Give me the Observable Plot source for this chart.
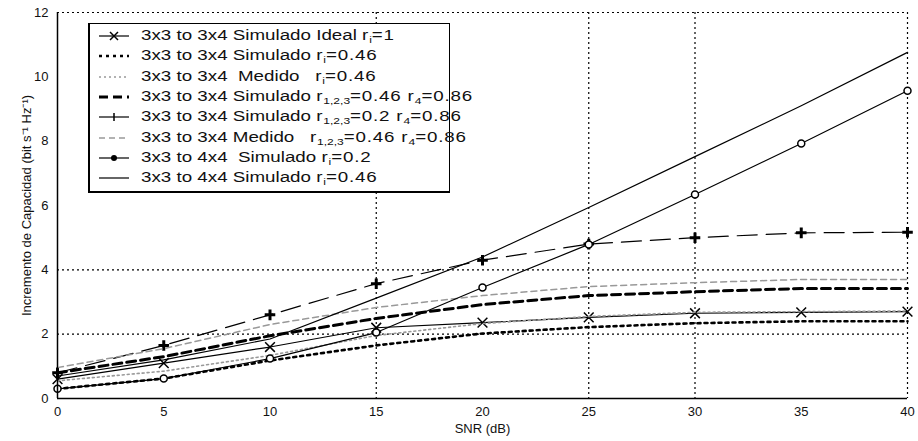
<!DOCTYPE html>
<html>
<head>
<meta charset="utf-8">
<script src="https://cdn.jsdelivr.net/npm/d3@7"></script>
<script src="https://cdn.jsdelivr.net/npm/@observablehq/plot@0.6"></script>
<style>
  html, body { margin: 0; padding: 0; background: #fff; }
  #wrap { position: relative; width: 918px; height: 441px; font-family: "Liberation Sans", Arial, sans-serif; }
  #legend { position: absolute; left: 88px; top: 23px; width: 362px; height: 170px; background: #fff;
            border: 1px solid #000; border-left-width: 2px; border-bottom-width: 2px; box-sizing: border-box; }
  .row { position: absolute; left: 0; height: 20px; display: flex; align-items: center; font-size: 14px; color: #111; white-space: nowrap; }
  .row svg { margin-left: 8px; margin-right: 11px; flex: none; }
  .row span.t { display: inline-block; transform: scaleX(1.34); transform-origin: 0 50%; }
  .r { letter-spacing: 0.6px; }
  sub { font-size: 9px; vertical-align: -3px; letter-spacing: 0; }
</style>
</head>
<body>
<div id="wrap"></div>
<script>
const snr = [0, 5, 10, 15, 20, 25, 30, 35, 40];
const xTicks = [0, 5, 10, 15, 20, 25, 30, 35, 40];
const yTicks = [0, 2, 4, 6, 8, 10, 12];
const xGrid = [15, 25, 30, 40];
const yGrid = [2, 4, 12];

const sIdeal      = [0.6, 1.1, 1.6, 2.2, 2.36, 2.52, 2.65, 2.68, 2.7];
const sSim046     = [0.3, 0.62, 1.18, 1.65, 2.02, 2.22, 2.34, 2.4, 2.4];
const sMed046     = [0.55, 0.85, 1.34, 1.96, 2.33, 2.55, 2.68, 2.7, 2.72];
const sSim046_086 = [0.8, 1.3, 1.95, 2.49, 2.92, 3.2, 3.32, 3.42, 3.42];
const sSim02_086  = [0.8, 1.65, 2.6, 3.57, 4.3, 4.8, 5.0, 5.15, 5.17];
const sMed046_086 = [0.96, 1.55, 2.3, 2.83, 3.2, 3.48, 3.6, 3.7, 3.7];
const s4x4_02     = [0.3, 0.62, 1.24, 2.05, 3.45, 4.79, 6.34, 7.93, 9.57];
const s4x4_046    = [0.7, 1.2, 1.85, 3.12, 4.4, 5.94, 7.52, 9.1, 10.76];

const legendLabels = [
  "3x3 to 3x4 Simulado Ideal <span class='r'>r<sub>i</sub>=1</span>",
  "3x3 to 3x4 Simulado <span class='r'>r<sub>i</sub>=0.46</span>",
  "3x3 to 3x4 &nbsp;Medido &nbsp;&nbsp;<span class='r'>r<sub>i</sub>=0.46</span>",
  "3x3 to 3x4 Simulado <span class='r'>r<sub>1,2,3</sub>=0.46 r<sub>4</sub>=0.86</span>",
  "3x3 to 3x4 Simulado <span class='r'>r<sub>1,2,3</sub>=0.2 r<sub>4</sub>=0.86</span>",
  "3x3 to 3x4 Medido &nbsp;&nbsp;<span class='r'>r<sub>1,2,3</sub>=0.46 r<sub>4</sub>=0.86</span>",
  "3x3 to 4x4 &nbsp;Simulado <span class='r'>r<sub>i</sub>=0.2</span>",
  "3x3 to 4x4 Simulado <span class='r'>r<sub>i</sub>=0.46</span>"
];

const seriesValues = [sIdeal, sSim046, sMed046, sSim046_086, sSim02_086, sMed046_086, s4x4_02, s4x4_046];
const styles = [
  {stroke: "#000", width: 1.2, dash: null, symbol: "times"},
  {stroke: "#000", width: 2.6, dash: "3,4", symbol: null},
  {stroke: "#999", width: 1.6, dash: "2,3", symbol: null},
  {stroke: "#000", width: 3, dash: "9,5", symbol: null},
  {stroke: "#000", width: 1.2, dash: "20,9", symbol: "plus"},
  {stroke: "#999", width: 1.5, dash: "6,4", symbol: null},
  {stroke: "#000", width: 1.2, dash: null, symbol: "circle"},
  {stroke: "#000", width: 1.2, dash: null, symbol: null}
];

const lineMarks = [];
seriesValues.forEach((vals, i) => {
  const st = styles[i];
  const data = snr.map((x, j) => ({x, y: vals[j]}));
  lineMarks.push(Plot.line(data, {x: "x", y: "y", stroke: st.stroke, strokeWidth: st.width,
    strokeDasharray: st.dash || undefined}));
  if (st.symbol) {
    lineMarks.push(Plot.dot(data, {x: "x", y: "y", symbol: st.symbol,
      r: st.symbol === "circle" ? 3.5 : (st.symbol === "plus" ? 3.5 : 4.5),
      stroke: "#000", strokeWidth: st.symbol === "plus" ? 3 : 1.5, fill: st.symbol === "circle" ? "#fff" : "none"}));
  }
});

const chart = Plot.plot({
  width: 918,
  height: 441,
  marginLeft: 57,
  marginRight: 11,
  marginTop: 12,
  marginBottom: 43,
  style: {fontFamily: "'Liberation Sans', Arial, sans-serif", fontSize: "13px", background: "#fff", color: "#111"},
  x: {domain: [0, 40]},
  y: {domain: [0, 12]},
  marks: [
    Plot.ruleX(xGrid, {stroke: "#000", strokeDasharray: "2,3", strokeWidth: 1.2}),
    Plot.ruleY(yGrid, {stroke: "#000", strokeDasharray: "2,3", strokeWidth: 1.2}),
    ...lineMarks,
    Plot.ruleX([0], {stroke: "#000", strokeWidth: 1.5}),
    Plot.ruleY([0], {stroke: "#000", strokeWidth: 1.5}),
    Plot.axisX(xTicks, {tickSize: 0, tickPadding: 8, label: "SNR (dB)", labelAnchor: "center", labelArrow: "none", labelOffset: 34}),
    Plot.axisY(yTicks, {tickSize: 0, tickPadding: 9, label: "Incremento de Capacidad (bit s⁻¹ Hz⁻¹)", labelAnchor: "center", labelArrow: "none", labelOffset: 36})
  ]
});

const wrap = document.getElementById("wrap");
wrap.appendChild(chart);

const legend = document.createElement("div");
legend.id = "legend";
wrap.appendChild(legend);
legendLabels.forEach((lab, i) => {
  const st = styles[i];
  const row = document.createElement("div");
  row.className = "row";
  row.style.top = (2 + i * 20.3) + "px";
  const svg = d3.create("svg").attr("width", 32).attr("height", 12);
  svg.append("line").attr("x1", 1).attr("x2", 31).attr("y1", 6).attr("y2", 6)
    .attr("stroke", st.stroke).attr("stroke-width", st.width)
    .attr("stroke-dasharray", st.dash ? (i === 4 ? null : st.dash) : null);
  if (st.symbol === "times") {
    svg.append("path").attr("d", "M12,2L20,10M20,2L12,10").attr("stroke", "#000").attr("stroke-width", 1.5);
  } else if (st.symbol === "plus") {
    svg.append("path").attr("d", "M16,2V10").attr("stroke", "#000").attr("stroke-width", 1.5);
  } else if (st.symbol === "circle") {
    svg.append("circle").attr("cx", 16).attr("cy", 6).attr("r", 3).attr("fill", "#000");
  }
  row.appendChild(svg.node());
  const span = document.createElement("span");
  span.className = "t";
  span.innerHTML = lab;
  row.appendChild(span);
  legend.appendChild(row);
});
</script>
</body>
</html>
